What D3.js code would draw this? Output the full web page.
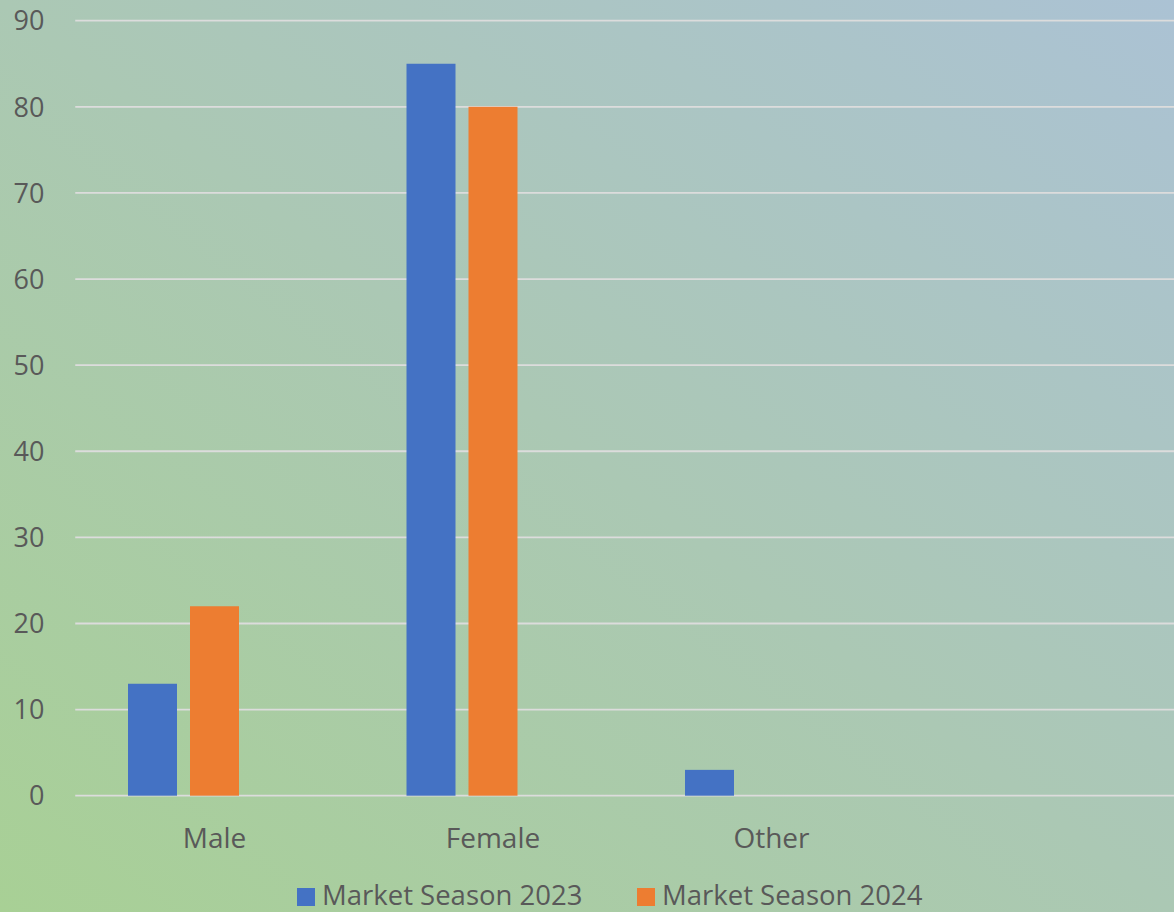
<!DOCTYPE html>
<html>
<head>
<meta charset="utf-8">
<script src="https://cdn.jsdelivr.net/npm/d3@7"></script>
<style>
  body { margin: 0; overflow: hidden; }
  svg { display: block; font-family: "Open Sans", "Noto Sans", sans-serif; }
</style>
</head>
<body>
<div id="chart"></div>
<script>
const categories = ["Male", "Female", "Other", ""];
const seriesNames = ["Market Season 2023", "Market Season 2024"];
const season2023 = [13, 85, 3, null];
const season2024 = [22, 80, 0, null];
const yTicks = [0, 10, 20, 30, 40, 50, 60, 70, 80, 90];

const colors = ["#4472c4", "#ed7d31"];
const W = 1174, H = 912;

const svg = d3.select("#chart").append("svg")
    .attr("width", W)
    .attr("height", H);

// background: green bottom-left fading to blue-grey top-right
const grad = svg.append("defs").append("linearGradient")
    .attr("id", "bg")
    .attr("x1", "0%").attr("y1", "100%")
    .attr("x2", "100%").attr("y2", "0%");
grad.append("stop").attr("offset", "0%").attr("stop-color", "#a8d095");
grad.append("stop").attr("offset", "50%").attr("stop-color", "#abc8b4");
grad.append("stop").attr("offset", "100%").attr("stop-color", "#abc2d4");
svg.append("rect").attr("width", W).attr("height", H).attr("fill", "url(#bg)");

const left = 75.25, step = 278.5;
const x0 = d3.scaleBand()
    .domain(categories.map((c, i) => i))
    .range([left, left + step * categories.length]);

// three bar slots per category, the third one is left empty
const x1 = d3.scaleBand()
    .domain([0, 1, 2])
    .range([52.75, step - 52.75])
    .paddingInner(13 / 62);

const y = d3.scaleLinear()
    .domain([0, 90])
    .range([795.7, 20.7]);

// gridlines
svg.append("g")
    .selectAll("line")
    .data(yTicks)
    .join("line")
    .attr("x1", left).attr("x2", W)
    .attr("y1", d => y(d)).attr("y2", d => y(d))
    .attr("stroke", "#dcdcdc")
    .attr("stroke-width", 1.8);

// y labels
svg.append("g")
    .selectAll("text")
    .data(yTicks)
    .join("text")
    .attr("x", 44.5)
    .attr("y", d => y(d))
    .attr("dy", "0.36em")
    .attr("text-anchor", "end")
    .attr("fill", "#595959")
    .attr("font-size", 27)
    .text(d => d);

const series = [season2023, season2024];
series.forEach((vals, s) => {
    svg.append("g")
        .selectAll("rect")
        .data(vals.map((v, i) => ({ i, v })).filter(d => d.v))
        .join("rect")
        .attr("x", d => x0(d.i) + x1(s))
        .attr("width", x1.bandwidth())
        .attr("y", d => y(d.v))
        .attr("height", d => y(0) - y(d.v))
        .attr("fill", colors[s]);
});

// category labels
svg.append("g")
    .selectAll("text")
    .data(categories)
    .join("text")
    .attr("x", (d, i) => x0(i) + x0.bandwidth() / 2)
    .attr("y", 848)
    .attr("text-anchor", "middle")
    .attr("fill", "#595959")
    .attr("font-size", 28)
    .text(d => d);

// legend
const legendX = [297, 637];
const lg = svg.append("g")
    .selectAll("g")
    .data(seriesNames)
    .join("g")
    .attr("transform", (d, i) => `translate(${legendX[i]},0)`);
lg.append("rect")
    .attr("x", 0).attr("y", 888)
    .attr("width", 18).attr("height", 18)
    .attr("fill", (d, i) => colors[i]);
lg.append("text")
    .attr("x", 25).attr("y", 905)
    .attr("fill", "#595959")
    .attr("font-size", 27.5)
    .text(d => d);
</script>
</body>
</html>
